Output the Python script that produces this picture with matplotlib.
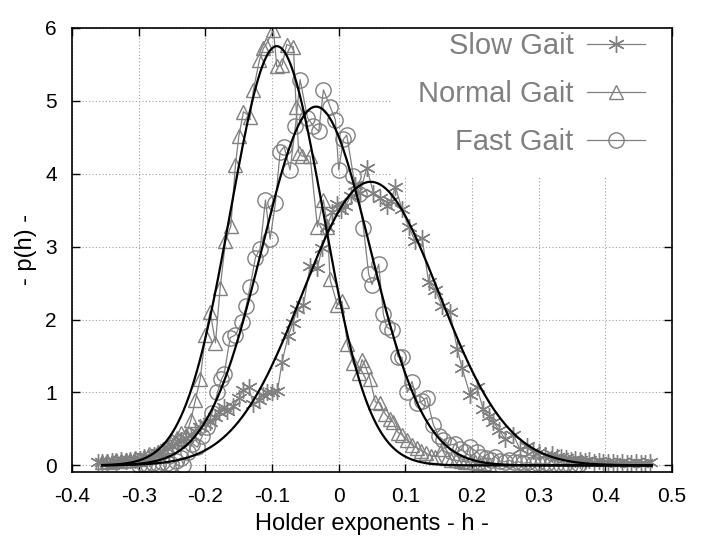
import numpy as np
import matplotlib
matplotlib.use("Agg")
import matplotlib.pyplot as plt
from matplotlib.patches import Rectangle

plt.rcParams['font.family'] = ['Liberation Sans', 'DejaVu Sans']

# --- data (h, p(h)) ---
slow_h = [-0.362, -0.355, -0.348, -0.341, -0.334, -0.327, -0.320, -0.313, -0.306, -0.299,
          -0.292, -0.285, -0.278, -0.271, -0.264, -0.257, -0.250, -0.243, -0.236, -0.229,
          -0.222, -0.215, -0.208, -0.200, -0.193, -0.186, -0.180, -0.172, -0.167, -0.158,
          -0.150, -0.143, -0.135, -0.128, -0.120, -0.113, -0.107, -0.100, -0.092, -0.085,
          -0.076, -0.069, -0.062, -0.053, -0.043, -0.032, -0.025, -0.017, -0.010, -0.002,
          0.004, 0.010, 0.018, 0.025, 0.032, 0.042, 0.052, 0.062, 0.072, 0.078,
          0.085, 0.095, 0.105, 0.115, 0.125, 0.135, 0.145, 0.155, 0.167, 0.178,
          0.185, 0.197, 0.207, 0.217, 0.225, 0.232, 0.240, 0.250, 0.262, 0.272,
          0.283, 0.292, 0.300, 0.310, 0.320, 0.327, 0.334, 0.341, 0.348, 0.355,
          0.362, 0.369, 0.376, 0.383, 0.390, 0.397, 0.404, 0.411, 0.418, 0.425,
          0.432, 0.439, 0.446, 0.453, 0.460, 0.467]
slow_p = [0.04, 0.05, 0.04, 0.06, 0.05, 0.07, 0.06, 0.08, 0.07, 0.09,
          0.11, 0.10, 0.14, 0.17, 0.19, 0.24, 0.27, 0.30, 0.35, 0.38,
          0.42, 0.47, 0.52, 0.57, 0.60, 0.66, 0.73, 0.80, 0.74, 0.81,
          0.92, 1.04, 1.07, 0.84, 0.90, 0.97, 1.01, 1.01, 1.02, 1.42,
          1.77, 1.95, 2.14, 2.20, 2.73, 2.71, 2.98, 3.27, 3.48, 3.58,
          3.50, 3.55, 3.70, 3.85, 3.74, 4.08, 3.74, 3.67, 3.55, 3.62,
          3.82, 3.51, 3.27, 3.07, 3.12, 2.51, 2.41, 2.18, 2.10, 1.59,
          1.34, 0.97, 1.08, 0.77, 0.68, 0.60, 0.49, 0.36, 0.42, 0.22,
          0.27, 0.20, 0.18, 0.14, 0.15, 0.12, 0.11, 0.10, 0.08, 0.09,
          0.07, 0.06, 0.07, 0.05, 0.06, 0.04, 0.05, 0.04, 0.03, 0.04,
          0.03, 0.03, 0.04, 0.03, 0.03, 0.04]

normal_h = [-0.355, -0.348, -0.341, -0.334, -0.327, -0.320, -0.313, -0.306, -0.299, -0.292,
            -0.285, -0.278, -0.271, -0.264, -0.257, -0.250, -0.243, -0.236, -0.229, -0.222,
            -0.215, -0.208, -0.200, -0.193, -0.185, -0.178, -0.170, -0.162, -0.155, -0.150,
            -0.143, -0.133, -0.128, -0.119, -0.113, -0.109, -0.098, -0.093, -0.085, -0.078,
            -0.068, -0.064, -0.060, -0.055, -0.043, -0.032, -0.023, -0.017, -0.013, -0.002,
            0.005, 0.013, 0.022, 0.030, 0.035, 0.040, 0.047, 0.055, 0.062, 0.070,
            0.077, 0.082, 0.089, 0.095, 0.102, 0.110, 0.117, 0.124, 0.131, 0.138,
            0.145, 0.155, 0.162, 0.169, 0.176, 0.183, 0.190, 0.197, 0.204, 0.211,
            0.218, 0.225]
normal_p = [0.05, 0.06, 0.04, 0.07, 0.06, 0.08, 0.07, 0.10, 0.09, 0.12,
            0.15, 0.14, 0.19, 0.22, 0.26, 0.33, 0.38, 0.45, 0.42, 0.62,
            0.90, 1.18, 1.79, 2.11, 1.68, 2.43, 3.07, 3.28, 4.12, 4.51,
            4.85, 4.78, 5.15, 5.56, 5.72, 5.77, 5.97, 5.47, 5.49, 5.77,
            5.74, 4.92, 4.29, 4.24, 4.24, 3.27, 3.64, 3.27, 2.55, 2.20,
            2.25, 1.66, 1.40, 1.27, 1.45, 1.36, 1.18, 0.87, 0.86, 0.70,
            0.63, 0.59, 0.45, 0.42, 0.35, 0.28, 0.24, 0.20, 0.17, 0.13,
            0.12, 0.22, 0.10, 0.08, 0.07, 0.06, 0.05, 0.05, 0.04, 0.03,
            0.03, 0.02]

fast_h = [-0.300, -0.293, -0.286, -0.279, -0.272, -0.265, -0.258, -0.251, -0.244, -0.237,
          -0.233, -0.226, -0.220, -0.212, -0.205, -0.198, -0.190, -0.182, -0.176, -0.172,
          -0.163, -0.155, -0.145, -0.139, -0.133, -0.125, -0.118, -0.110, -0.103, -0.095,
          -0.088, -0.082, -0.073, -0.065, -0.058, -0.047, -0.038, -0.030, -0.023, -0.013,
          -0.005, 0.000, 0.007, 0.012, 0.022, 0.030, 0.037, 0.045, 0.050, 0.060,
          0.067, 0.072, 0.080, 0.089, 0.095, 0.103, 0.110, 0.118, 0.125, 0.132,
          0.142, 0.150, 0.157, 0.165, 0.175, 0.182, 0.190, 0.197, 0.207, 0.214,
          0.221, 0.228, 0.235, 0.242, 0.249, 0.256, 0.263, 0.270, 0.277, 0.284,
          0.291, 0.298, 0.305, 0.312, 0.319, 0.326, 0.333, 0.340, 0.347, 0.354,
          0.361]
fast_p = [0.01, 0.02, 0.01, 0.03, 0.02, 0.04, 0.03, 0.02, 0.06, 0.10,
          0.01, 0.18, 0.30, 0.25, 0.40, 0.53, 0.72, 1.00, 1.18, 1.25,
          1.75, 1.79, 1.97, 2.18, 2.45, 2.85, 2.97, 3.64, 3.10, 3.60,
          4.30, 4.37, 4.05, 4.65, 5.29, 4.77, 4.65, 4.58, 5.15, 4.92,
          4.74, 4.05, 4.47, 4.53, 3.97, 3.72, 3.26, 2.62, 2.48, 2.76,
          2.07, 1.90, 1.85, 1.49, 1.48, 1.00, 1.15, 0.86, 0.88, 0.93,
          0.56, 0.40, 0.35, 0.28, 0.29, 0.22, 0.18, 0.25, 0.19, 0.12,
          0.10, 0.08, 0.12, 0.06, 0.05, 0.07, 0.04, 0.05, 0.03, 0.04,
          0.02, 0.03, 0.02, 0.03, 0.01, 0.02, 0.01, 0.02, 0.01, 0.01,
          0.02]

# gaussian fits (mean, std) per gait
fit_mu = {'slow': 0.048, 'normal': -0.093, 'fast': -0.034}
fit_sigma = {'slow': 0.1026, 'normal': 0.0694, 'fast': 0.0811}
fit_range = (-0.355, 0.47)

GRAY = '#808080'

fig = plt.figure(figsize=(7.08, 5.45), dpi=100)
ax = fig.add_axes([0.102, 0.134, 0.847, 0.815])

ax.set_xlim(-0.4, 0.5)
ax.set_ylim(-0.09, 6)
ax.set_xticks(np.arange(-0.4, 0.51, 0.1))
ax.set_yticks(range(0, 7))
ax.set_xticklabels(['-0.4', '-0.3', '-0.2', '-0.1', '0', '0.1', '0.2', '0.3', '0.4', '0.5'])

# dotted grid drawn by hand so the key box can hide it but not the ticks
for xt in ax.get_xticks():
    ax.axvline(xt, color='#a0a0a0', lw=0.8, ls=(0, (1, 2)), zorder=1)
for yt in ax.get_yticks():
    ax.axhline(yt, color='#a0a0a0', lw=0.8, ls=(0, (1, 2)), zorder=1)

ax.plot(slow_h, slow_p, color=GRAY, lw=0.9, marker=(6, 2, 0), ms=12, mew=1.0,
        mec=GRAY, label='Slow Gait', zorder=2.1)
ax.plot(normal_h, normal_p, color=GRAY, lw=0.9, marker='^', ms=10, mew=1.0,
        mfc='none', mec=GRAY, label='Normal Gait', zorder=2.1)
ax.plot(fast_h, fast_p, color=GRAY, lw=0.9, marker='o', ms=11, mew=1.0,
        mfc='none', mec=GRAY, label='Fast Gait', zorder=2.1)

hh = np.linspace(fit_range[0], fit_range[1], 400)
for key in ['slow', 'normal', 'fast']:
    mu, sd = fit_mu[key], fit_sigma[key]
    pdf = np.exp(-0.5 * ((hh - mu) / sd) ** 2) / (sd * np.sqrt(2 * np.pi))
    ax.plot(hh, pdf, color='black', lw=1.6, zorder=2.2)

# white key box (gnuplot style, hides grid + data below it)
ax.add_patch(Rectangle((0.533, 0.662), 0.467, 0.338, transform=ax.transAxes,
                       facecolor='white', edgecolor='none', zorder=2.3))

leg = ax.legend(loc='upper right', bbox_to_anchor=(0.955, 0.99), borderaxespad=0,
                markerfirst=False, fontsize=21, frameon=False,
                handlelength=2.0, handletextpad=0.45, labelspacing=0.69,
                borderpad=0, labelcolor=GRAY)
leg.set_zorder(2.4)

ax.tick_params(direction='in', length=6, width=1.0, top=True, right=True,
               labelsize=15, pad=11, zorder=3)
for sp in ax.spines.values():
    sp.set_linewidth(1.2)
    sp.set_zorder(3)

ax.set_xlabel('Holder exponents - h -', fontsize=17, labelpad=5)
ax.set_ylabel('- p(h) -', fontsize=17, labelpad=6)

fig.savefig('out.png', dpi=100)
